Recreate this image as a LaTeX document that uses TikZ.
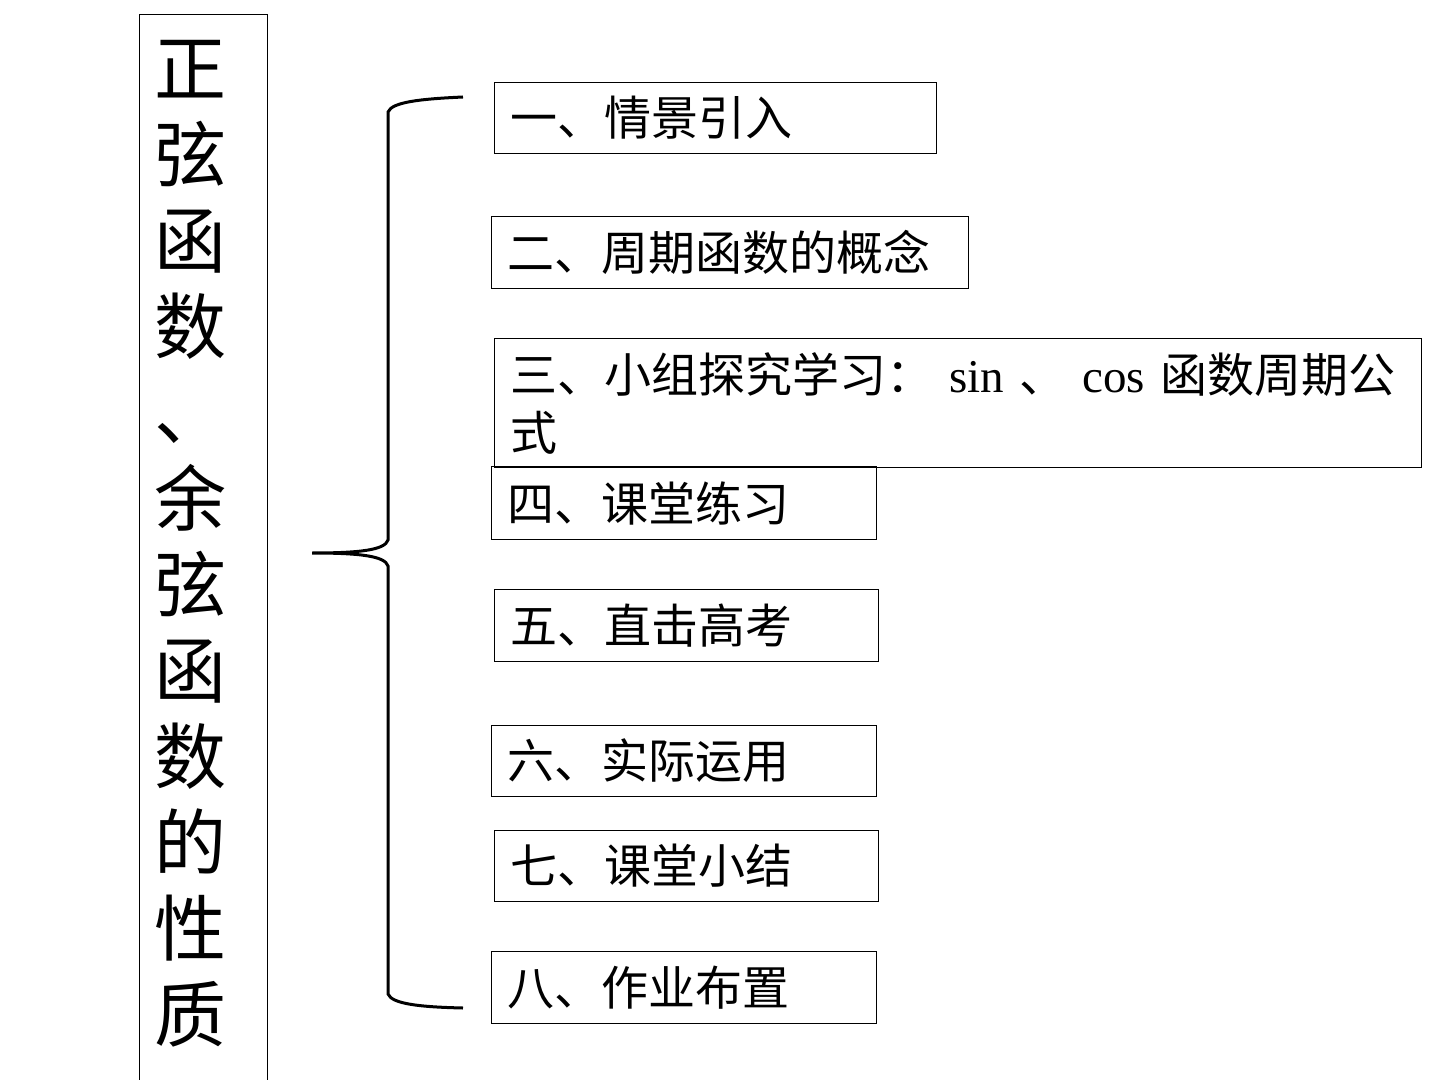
\documentclass[tikz,border=0pt]{standalone}
\usepackage{fontspec}
\setmainfont{Liberation Serif}
\newfontfamily\cjk{Noto Sans CJK SC}
\tikzset{
  item/.style 2 args={draw, line width=0.5pt, anchor=north west, inner xsep=8pt, inner ysep=0pt,
    align=left, text width=#1, minimum height=#2, font=\cjk\fontsize{23.5}{29}\selectfont},
  brace/.style={line width=1.5pt}
}

\begin{document}
\begin{tikzpicture}[x=0.5pt, y=-0.5pt]
    \useasboundingbox (0,0) rectangle (1440,1080);
    % title column
    \node [draw, line width=0.5pt, anchor=north west, minimum width=64pt, minimum height=545pt, inner sep=0pt] (frame) at (139,14) {};
    \node [anchor=north, inner sep=0pt, align=center, font=\cjk\fontsize{36}{43}\selectfont] (title) at (190,40)
      {正\\弦\\函\\数\\、\\余\\弦\\函\\数\\的\\性\\质};
    % the brace
    \coordinate (b1) at (463,97);
    \coordinate (b2) at (312,553);
    \coordinate (b3) at (463,1008);
    \draw [brace] (b1) .. controls (420,99) and (392,102) .. (388,112) -- (388,540)
      .. controls (385,550) and (360,553) .. (b2)
      .. controls (360,553) and (385,556) .. (388,566) -- (388,994)
      .. controls (392,1004) and (420,1007) .. (b3);
    % the items
    \node [item={205pt}{35.5pt}] (s1) at (494,82) {一、情景引入};
    \node [item={222.5pt}{36pt}] (s2) at (491,216) {二、周期函数的概念};
    \node [item={447.5pt}{64.5pt}] (s3) at (494,338) {三、小组探究学习：{\rmfamily\ sin }、{\rmfamily\ cos }函数周期公\\式};
    \node [item={176.5pt}{36.5pt}] (s4) at (491,466) {四、课堂练习};
    \node [item={176pt}{36pt}] (s5) at (494,589) {五、直击高考};
    \node [item={176.5pt}{35.5pt}] (s6) at (491,725) {六、实际运用};
    \node [item={176pt}{35.5pt}] (s7) at (494,830) {七、课堂小结};
    \node [item={176.5pt}{36pt}] (s8) at (491,951) {八、作业布置};
  \end{tikzpicture}
\end{document}
